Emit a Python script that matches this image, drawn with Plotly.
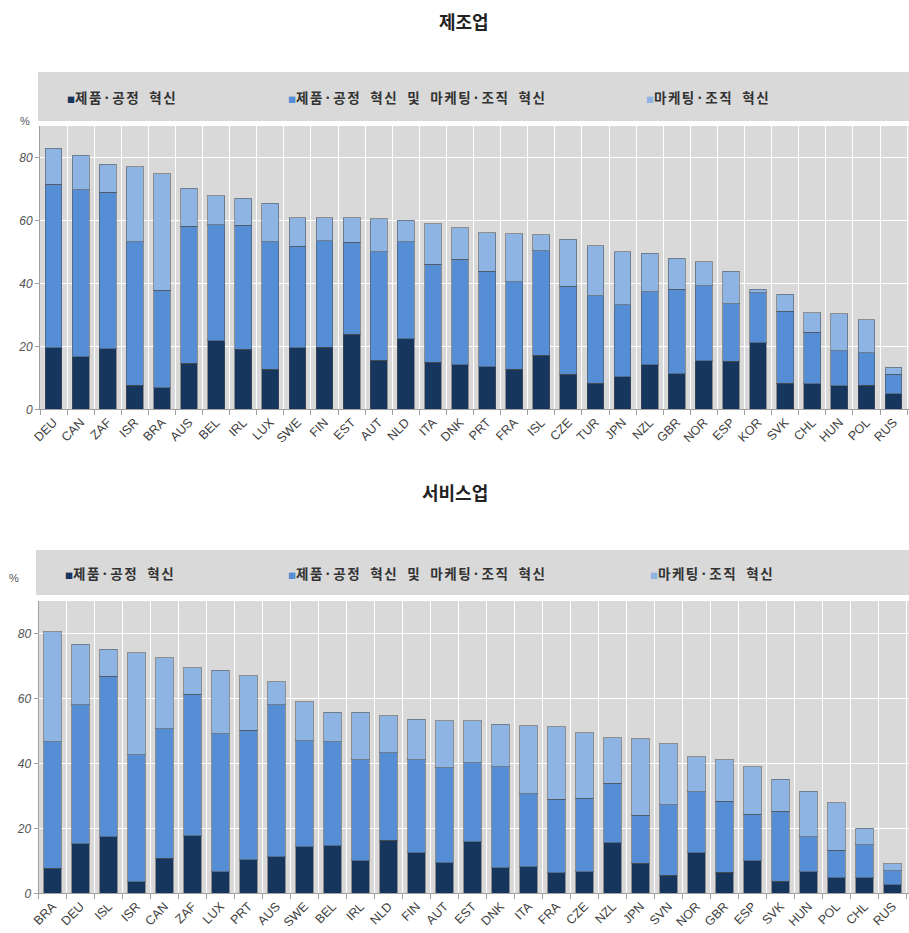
import plotly.graph_objects as go

# ---------------- data ----------------
series_names = ["제품·공정 혁신", "제품·공정 혁신 및 마케팅·조직 혁신", "마케팅·조직 혁신"]
series_colors = ["#17365d", "#558ed5", "#8eb4e3"]

mfg_countries = ["DEU", "CAN", "ZAF", "ISR", "BRA", "AUS", "BEL", "IRL", "LUX", "SWE", "FIN",
                 "EST", "AUT", "NLD", "ITA", "DNK", "PRT", "FRA", "ISL", "CZE", "TUR", "JPN",
                 "NZL", "GBR", "NOR", "ESP", "KOR", "SVK", "CHL", "HUN", "POL", "RUS"]
mfg_product_only = [19.6, 16.7, 19.3, 7.7, 6.9, 14.6, 21.8, 19.0, 12.7, 19.5, 19.7,
                    23.9, 15.6, 22.4, 15.0, 14.2, 13.5, 12.7, 17.2, 11.1, 8.3, 10.4,
                    14.2, 11.3, 15.5, 15.3, 21.2, 8.3, 8.1, 7.5, 7.7, 5.0]
mfg_both = [51.9, 53.0, 49.7, 45.6, 31.0, 43.6, 36.9, 39.4, 40.6, 32.3, 33.8,
            29.1, 34.5, 30.9, 31.1, 33.4, 30.4, 27.9, 33.2, 28.0, 27.7, 22.8,
            23.1, 26.9, 23.7, 18.2, 15.9, 22.8, 16.3, 11.1, 10.3, 6.2]
mfg_marketing_only = [11.4, 11.0, 8.8, 23.7, 36.9, 12.0, 9.2, 8.6, 12.2, 9.1, 7.3,
                      7.8, 10.4, 6.8, 12.9, 10.1, 12.2, 15.2, 5.0, 14.9, 16.0, 16.9,
                      12.2, 9.8, 7.7, 10.4, 1.0, 5.4, 6.3, 11.7, 10.4, 2.1]

svc_countries = ["BRA", "DEU", "ISL", "ISR", "CAN", "ZAF", "LUX", "PRT", "AUS", "SWE", "BEL",
                 "IRL", "NLD", "FIN", "AUT", "EST", "DNK", "ITA", "FRA", "CZE", "NZL", "JPN",
                 "SVN", "NOR", "GBR", "ESP", "SVK", "HUN", "POL", "CHL", "RUS"]
svc_product_only = [7.7, 15.2, 17.4, 3.5, 10.8, 17.7, 6.7, 10.4, 11.3, 14.4, 14.6,
                    10.0, 16.3, 12.5, 9.4, 15.9, 7.8, 8.1, 6.3, 6.7, 15.5, 9.2,
                    5.5, 12.5, 6.5, 10.0, 3.7, 6.7, 4.8, 4.8, 2.6]
svc_both = [38.9, 42.8, 49.4, 39.2, 39.8, 43.6, 42.5, 39.8, 46.7, 32.5, 32.0,
            31.1, 27.0, 28.6, 29.3, 24.3, 31.1, 22.5, 22.6, 22.6, 18.4, 14.8,
            21.7, 18.7, 21.8, 14.4, 21.5, 10.7, 8.5, 10.2, 4.4]
svc_marketing_only = [33.9, 18.7, 8.3, 31.4, 21.9, 8.2, 19.5, 16.8, 7.2, 12.1, 9.1,
                      14.6, 11.3, 12.5, 14.5, 13.0, 13.1, 21.0, 22.4, 20.1, 14.0, 23.6,
                      18.8, 10.8, 12.8, 14.5, 9.9, 14.0, 14.6, 5.1, 2.1]

y_ticks = [0, 20, 40, 60, 80]
titles = ["제조업", "서비스업"]

# ---------------- figure ----------------
W, H = 909, 933
fig = go.Figure()

panels = [
    (mfg_countries, [mfg_product_only, mfg_both, mfg_marketing_only], "x", "y"),
    (svc_countries, [svc_product_only, svc_both, svc_marketing_only], "x2", "y2"),
]
for countries, vals, xa, ya in panels:
    for name, color, v in zip(series_names, series_colors, vals):
        fig.add_trace(go.Bar(
            x=countries, y=v, name=name, xaxis=xa, yaxis=ya,
            marker=dict(color=color, line=dict(color="rgba(80,80,80,0.55)", width=1)),
            showlegend=False,
        ))

def py(pix):
    return 1 - pix / H

def px(pix):
    return pix / W

KFONT = "Noto Sans CJK KR"
TICKFONT = "Liberation Sans"

common_x = dict(
    type="category", tickson="boundaries", showgrid=True, gridcolor="white", gridwidth=1,
    ticks="outside", ticklen=5, tickcolor="#a0a0a0", showline=True, linecolor="#a0a0a0",
    tickangle=-45, tickfont=dict(family=TICKFONT, size=12.5, color="#404040"),
    automargin=False, fixedrange=True,
)
common_y = dict(
    range=[0, 90], tickvals=y_ticks, showgrid=True, gridcolor="white", gridwidth=1,
    ticks="outside", ticklen=4, tickcolor="#a0a0a0", showline=True, linecolor="#a0a0a0",
    zeroline=False,
    tickfont=dict(family=TICKFONT, size=12, color="#555555", style="italic"),
    automargin=False, fixedrange=True,
)

fig.update_layout(
    width=W, height=H,
    margin=dict(l=0, r=0, t=0, b=0),
    paper_bgcolor="white",
    plot_bgcolor="#d9d9d9",
    barmode="stack",
    bargap=0.38,
    showlegend=False,
    xaxis=dict(common_x, domain=[px(40), 1], anchor="y", range=[-0.5, 31.57]),
    yaxis=dict(common_y, domain=[py(409.3), py(126)], anchor="x"),
    xaxis2=dict(common_x, domain=[px(38.6), 1], anchor="y2", range=[-0.5, 30.59]),
    yaxis2=dict(common_y, domain=[py(893.3), py(601)], anchor="x2"),
)

# Legend bands (gray boxes) behind legend entries
shapes = []
for (x0, y0, y1) in [(38, 72, 121), (36, 550, 595)]:
    shapes.append(dict(type="rect", xref="paper", yref="paper",
                       x0=px(x0), x1=1.0, y0=py(y1), y1=py(y0),
                       fillcolor="#d9d9d9", line=dict(width=0), layer="below"))
fig.update_layout(shapes=shapes)

annotations = []
# titles
annotations.append(dict(text=f"<b>{titles[0]}</b>", x=px(464), y=py(21), xref="paper", yref="paper",
                        showarrow=False, font=dict(family=KFONT, size=18, color="#222222"),
                        xanchor="center", yanchor="middle"))
annotations.append(dict(text=f"<b>{titles[1]}</b>", x=px(455), y=py(492), xref="paper", yref="paper",
                        showarrow=False, font=dict(family=KFONT, size=18, color="#222222"),
                        xanchor="center", yanchor="middle"))
# % labels
annotations.append(dict(text="%", x=px(25), y=py(121), xref="paper", yref="paper", showarrow=False,
                        font=dict(family=TICKFONT, size=11, color="#555555"),
                        xanchor="center", yanchor="middle"))
annotations.append(dict(text="%", x=px(14), y=py(578), xref="paper", yref="paper", showarrow=False,
                        font=dict(family=TICKFONT, size=11, color="#555555"),
                        xanchor="center", yanchor="middle"))
# legend entries
legend_x = [[65, 286, 644], [63, 286, 648]]
legend_y = [97, 573]
for row in range(2):
    for name, color, lx in zip(series_names, series_colors, legend_x[row]):
        label = name.replace(" ", "\u00a0 ")
        annotations.append(dict(
            text=(f"<span style='color:{color};font-size:8px'>■</span>"
                  f"<span style='letter-spacing:1.5px'><b>{label}</b></span>"),
            x=px(lx), y=py(legend_y[row]), xref="paper", yref="paper", showarrow=False,
            font=dict(family=KFONT, size=13.5, color="#333333"),
            xanchor="left", yanchor="middle"))
fig.update_layout(annotations=annotations)

fig.write_html("out.html")
